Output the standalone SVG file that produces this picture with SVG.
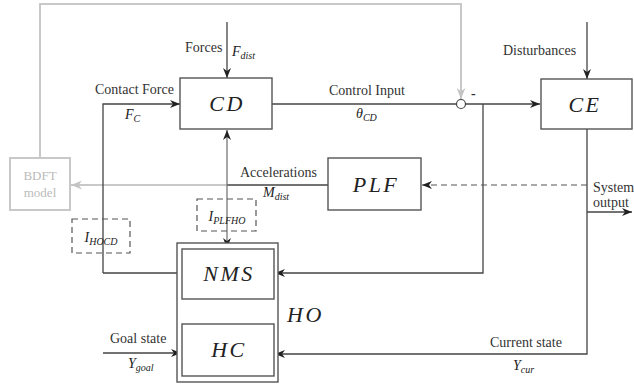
<svg xmlns="http://www.w3.org/2000/svg" width="634" height="386" viewBox="0 0 634 386" font-family="'Liberation Serif', 'DejaVu Serif', serif">
<defs>
<marker id="arr" viewBox="0 0 10 8" refX="10" refY="4" markerWidth="10" markerHeight="8" markerUnits="userSpaceOnUse" orient="auto-start-reverse"><path d="M0,0 L10,4 L0,8 L3,4 Z" fill="#222"/></marker>
<marker id="garr" viewBox="0 0 10 8" refX="10" refY="4" markerWidth="11" markerHeight="9" markerUnits="userSpaceOnUse" orient="auto"><path d="M0,0 L10,4 L0,8 L3,4 Z" fill="#c4c4c4"/></marker>
</defs>
<style>
.box{fill:#fff;stroke:#555;stroke-width:1.4}
.ln{fill:none;stroke:#444;stroke-width:1.3}
.gl{fill:none;stroke:#c8c8c8;stroke-width:2}
.dash{fill:none;stroke:#555;stroke-width:1.2;stroke-dasharray:6 4}
text{font-family:'Liberation Serif','DejaVu Serif',serif}
.t{font-size:14px;fill:#333}
.m{font-style:italic;font-size:22px;fill:#222;letter-spacing:2.5px}
.s{font-style:italic;font-size:14px;fill:#222}
.ss{font-size:10px}
.g{font-size:13px;fill:#bbb}
</style>
<g id="connectors">
<path class="gl" d="M40,158 V4 H461 V99" marker-end="url(#garr)"/>
<path class="gl" d="M227,185 H71" marker-end="url(#garr)"/>
<path class="ln" d="M328,185 H227"/>
<path class="ln" d="M227,22 V78" marker-end="url(#arr)"/>
<path class="ln" d="M587,22 V79" marker-end="url(#arr)"/>
<path class="ln" d="M103,273 V104 H180" marker-end="url(#arr)"/>
<path class="ln" d="M182,273 H103"/>
<path class="ln" d="M272,104 H457"/>
<path class="ln" d="M465,104 H540" marker-end="url(#arr)"/>
<path class="ln" d="M483,104 V273 H275" marker-end="url(#arr)"/>
<path class="ln" d="M587,129 V354 H275" marker-end="url(#arr)"/>
<path class="dash" d="M587,185 H422" marker-end="url(#arr)"/>
<path class="ln" d="M587,212 H632" marker-end="url(#arr)"/>
<path class="ln" d="M103,353 H181" marker-end="url(#arr)"/>
<path class="ln" d="M227,324 V300" marker-end="url(#arr)"/>
<path fill="none" stroke="#777" stroke-width="1.3" d="M227,130 V248" marker-start="url(#arr)" marker-end="url(#arr)"/>
<circle cx="461" cy="104" r="4.5" fill="#fff" stroke="#444" stroke-width="1.2"/>
<text class="t" x="471" y="98" font-weight="bold">-</text>
<text class="t" x="185" y="52">Forces</text>
<text class="s" x="232" y="56">F<tspan class="ss" dy="3">dist</tspan></text>
<text class="t" x="95" y="94">Contact Force</text>
<text class="s" x="125" y="119">F<tspan class="ss" dy="3">C</tspan></text>
<text class="t" x="329" y="95">Control Input</text>
<text class="s" x="356" y="118">θ<tspan class="ss" dy="3">CD</tspan></text>
<text class="t" x="503" y="55">Disturbances</text>
<text class="t" x="240" y="177">Accelerations</text>
<text class="s" x="263" y="197">M<tspan class="ss" dy="3">dist</tspan></text>
<text class="t" x="593" y="192">System</text>
<text class="t" x="593" y="207">output</text>
<text class="t" x="110" y="343">Goal state</text>
<text class="s" x="128" y="368">Y<tspan class="ss" dy="3">goal</tspan></text>
<text class="t" x="490" y="347">Current state</text>
<text class="s" x="513" y="370">Y<tspan class="ss" dy="3">cur</tspan></text>
</g>
<g id="BDFT">
<rect x="10" y="158" width="60" height="52" fill="#fff" stroke="#c8c8c8" stroke-width="2"/>
<text class="g" x="40" y="180" text-anchor="middle">BDFT</text>
<text class="g" x="40" y="197" text-anchor="middle">model</text>
</g>
<g id="CD">
<rect class="box" x="180" y="78" width="92" height="51"/>
<text class="m" x="227" y="111" text-anchor="middle">CD</text>
</g>
<g id="CE">
<rect class="box" x="541" y="79" width="91" height="50"/>
<text class="m" x="585" y="112" text-anchor="middle">CE</text>
</g>
<g id="PLF">
<rect class="box" x="328" y="158" width="93" height="52"/>
<text class="m" x="376" y="192" text-anchor="middle">PLF</text>
</g>
<g id="I_PLFHO">
<rect class="dash" x="197" y="199" width="59" height="32"/>
<text class="s" x="227" y="221" text-anchor="middle" font-size="16">I<tspan class="ss" dy="3">PLFHO</tspan></text>
</g>
<g id="I_HOCD">
<rect class="dash" x="72" y="219" width="58" height="34"/>
<text class="s" x="101" y="242" text-anchor="middle" font-size="16">I<tspan class="ss" dy="3">HOCD</tspan></text>
</g>
<g id="HO">
<rect class="box" x="177" y="243" width="101" height="139"/>
<text class="m" x="287" y="322">HO</text>
</g>
<g id="NMS">
<rect class="box" x="182" y="249" width="92" height="50"/>
<text class="m" x="229" y="281" text-anchor="middle">NMS</text>
</g>
<g id="HC">
<rect class="box" x="182" y="324" width="92" height="52"/>
<text class="m" x="229" y="357" text-anchor="middle">HC</text>
</g>
</svg>
